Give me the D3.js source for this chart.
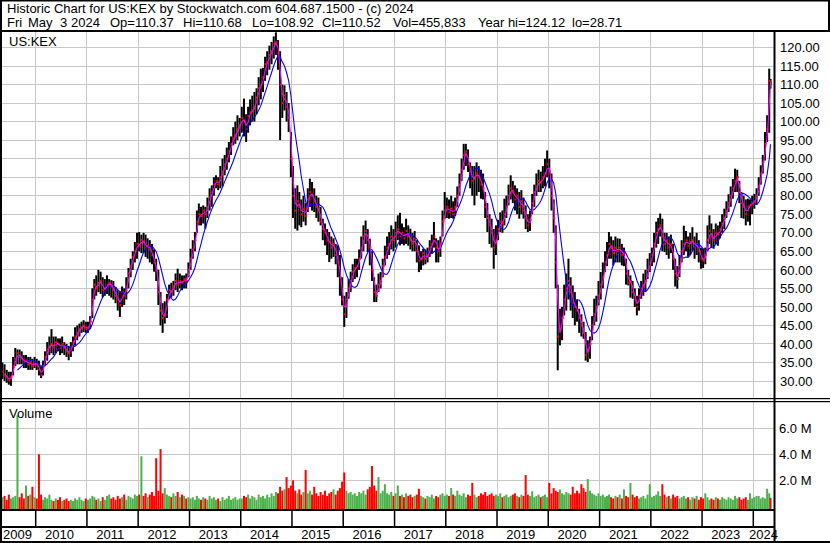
<!DOCTYPE html>
<html>
<head>
<meta charset="utf-8">
<script src="https://cdn.jsdelivr.net/npm/d3@7"></script>
<style>
body { margin: 0; background: #fff; }
svg { display: block; font-family: "Liberation Sans", Arial, sans-serif; }
</style>
</head>
<body>
<svg id="chart"></svg>
<script>
var WIDTH = 830;
var HEIGHT = 543;

// half-month periods, first one is 1-15 May 2009, last one is 1-3 May 2024
var closes = [
	32.5, 31.5, 31, 30.2, 31, 34, 36, 37.5, 36.5, 36, 35, 35.5, 34.5, 35, 34, 35,
	34.5, 33, 31.5, 34, 36.5, 38.5, 39.5, 40, 39, 40.5, 40, 39, 40, 39, 38, 37.5, 39, 40.5, 42, 43, 44, 44.5, 45, 44,
	44.5, 46, 52, 56, 55, 56.5, 57, 54.5, 55, 56, 56.5, 55.5, 54.5, 53, 52, 50.5, 54, 53, 55.5, 59, 61, 63.5, 65, 67,
	66.5, 68, 67.5, 66, 66.5, 65.5, 64, 62, 60, 54, 49, 47, 48, 52, 54.5, 54, 55.5, 57, 56, 57, 56.5, 57.5, 57, 60,
	63, 65.5, 68, 73, 75, 74.5, 76, 75, 77, 79.5, 81, 83, 84, 83, 85, 86.5, 88.5, 90, 92, 94, 95.5, 96.5, 98, 99,
	101, 100, 98, 101.5, 102.5, 103, 104, 106.5, 109, 110, 112, 115.5, 116, 118, 119, 121, 121.5, 118.5, 110, 105, 107, 104, 101, 90,
	80, 76, 78.5, 77, 75, 76.5, 74.5, 79, 81, 80, 78.5, 77, 76, 73, 71, 70, 68, 67.5, 66, 67, 64, 62, 58, 52,
	48, 52, 55, 57, 59.5, 60.5, 61, 63, 66, 69, 70.5, 68, 66, 60, 54, 53, 56, 57, 61, 63.5, 66, 67, 69, 68,
	70, 71, 69, 70, 68.5, 70.5, 69, 68, 67, 68.5, 65, 62.5, 63, 64.5, 63, 64, 66, 67, 69, 66, 65, 67, 73, 76,
	77, 75.5, 76.5, 75, 77, 80, 83, 87, 91, 92, 88.5, 86.5, 84, 85, 86, 85, 83, 82, 77, 74, 72, 70, 66, 68,
	71, 73, 72.5, 75, 77, 80, 82, 81, 79, 80, 77, 78.5, 76, 74, 72, 73.5, 78, 81, 82.5, 84, 83.5, 85, 86, 88.5,
	86.5, 80, 74, 62, 42, 44, 47, 52, 55, 57, 54, 51, 50, 49, 47, 45, 43, 37, 38.5, 40, 45, 48, 50, 53,
	56, 58, 62, 64, 67, 66, 64.5, 66, 65, 66, 64, 64.5, 59, 56.5, 57, 54, 52, 50, 53, 55, 56, 57, 60, 62,
	64, 67, 70, 71, 72, 69, 67, 68, 66, 67, 63, 59, 57.5, 61, 65, 67, 68, 66.5, 67.5, 68, 66, 67, 65, 63,
	62.5, 64, 68, 70.5, 69, 68, 70, 69.5, 71, 72.5, 74, 76, 78, 80, 82, 84, 85, 81, 78, 77, 75, 77, 77.5, 78,
	78.5, 80, 82.5, 86, 89, 94, 98, 111, 110.52
];
var highs = [
	35, 34.5, 33, 32.5, 32.5, 36.5, 38.9, 38.5, 38.5, 38, 37, 37, 36.5, 36.5, 36, 36.5,
	36, 35.5, 34, 35.5, 38, 40.5, 42, 44, 42, 42, 41.5, 41.5, 42, 40.5, 40, 39.5, 40.5, 42, 44.5, 45, 45.5, 46, 46.4, 46,
	46, 47.5, 55, 57.5, 58.5, 60, 59.5, 58, 57.5, 58.5, 57.5, 57.2, 57, 55.4, 54.5, 54, 55.5, 55, 58, 60.5, 63, 65, 67.5, 70,
	70.2, 69.5, 70, 69.5, 68.5, 68, 67, 65.5, 63, 60, 54, 51, 51.5, 53.5, 56, 56.5, 57, 59, 60.3, 59, 58.5, 58.5, 59, 62,
	65.7, 68, 70.2, 76, 77.9, 77, 77.4, 77, 79.5, 82, 82.8, 85, 85.5, 85, 88, 90, 91, 93, 94.5, 96, 98.5, 100, 101.7, 101,
	104, 106.2, 102, 104, 106, 107, 108, 109, 112, 114.3, 114.5, 117.5, 119, 120.5, 121.5, 123, 124.1, 122, 119, 110, 109.8, 108, 105, 97.2,
	88, 82, 82.8, 81, 79, 80, 78, 82, 84.6, 83.7, 82, 80, 79.5, 77, 73.8, 72.5, 71, 70.2, 69, 68.5, 67, 66.6, 64, 58,
	53, 54, 57.5, 59.5, 61.5, 63, 63, 65.5, 69, 72, 73.3, 71, 68.4, 65, 58, 56, 59, 59.4, 63, 66.5, 69, 70.2, 72, 71,
	73, 74.7, 75.4, 72.5, 71.5, 73.8, 72, 71.1, 70, 70.5, 68, 66.6, 65, 65.7, 65.5, 66, 68, 69.5, 72.9, 68.5, 68, 69, 76, 81,
	79.5, 79, 80, 78.5, 79.5, 82.5, 86, 90, 94, 94, 92.5, 89, 88, 88, 89, 88, 87, 86, 81, 78, 75, 73.8, 71, 72,
	73.5, 75.5, 76, 79.2, 80, 83, 85.5, 84, 82.8, 82, 81, 81.5, 79.5, 77.4, 75, 76, 80.5, 83, 86, 87, 86.5, 88, 90, 92.2,
	90, 86, 79, 72, 56, 49.5, 50, 56, 59, 63, 58, 55.8, 54, 52, 49.5, 48, 46, 43.2, 41, 42, 47.5, 52.2, 53, 57,
	59.4, 62, 65, 67.5, 70.2, 69, 68, 69, 68.5, 68.4, 67, 66, 63, 60, 58.5, 57, 55, 53, 55, 57, 59, 60, 63, 64.5,
	66, 70, 73, 74, 75.2, 73.8, 70, 70, 69, 69.5, 67, 63, 61, 64, 68, 71.9, 70.5, 69, 70, 71.5, 69, 70, 68, 66,
	65.7, 66, 72, 74.7, 72.5, 71, 72.5, 72, 73, 75, 76.5, 78.5, 80.4, 82.5, 84.5, 87.3, 87, 84, 81, 80, 79, 79.2, 79, 80,
	80.5, 82, 85, 88.2, 91, 97.2, 101.7, 114.3, 111.5
];
var lows = [
	30.5, 30, 29.5, 29, 28.7, 31.5, 34, 34.5, 34.5, 34.5, 33.5, 33.5, 33, 33, 33, 33.5,
	33, 31.5, 30.8, 31.5, 34, 35.5, 37, 37.5, 37, 37.5, 38, 37, 37.5, 37, 36.5, 35.6, 36.5, 38, 39.5, 41, 42, 43, 43.2, 43,
	43, 44, 47, 52, 53, 54, 53.5, 52.6, 53, 53.5, 53, 52.5, 52, 51, 49, 47.3, 50, 50.5, 52, 55, 58, 60, 62, 63,
	65, 64.5, 64.5, 63.5, 63, 62, 61.5, 59.5, 57, 50.5, 45, 43, 45.5, 47, 52, 52.5, 53, 54.5, 54, 55, 54.5, 55, 55, 58,
	60, 63, 65, 70, 72, 72, 72.5, 71.1, 74, 76, 77, 80, 82, 81.5, 82, 82.5, 85.5, 87, 89, 91, 93.6, 94, 95, 96,
	97, 96, 94.5, 97, 99, 100, 100, 102, 104.4, 106, 108, 111, 112.5, 114, 115.5, 117, 118, 114, 95, 101, 103, 100, 97.2, 85,
	74, 71.1, 70.6, 72, 71.5, 73, 72, 75.6, 77, 76, 75.6, 74, 73, 72, 68, 66.6, 64, 62.1, 63, 63.5, 61.5, 58, 53, 50.4,
	44.6, 47, 52.2, 54, 56.7, 57.5, 58, 60, 63, 65, 67, 64.8, 61.2, 57, 51.3, 51.3, 54, 55, 58, 61.2, 63, 64, 65.5, 65,
	66, 68, 66.6, 67, 66.6, 67, 66.5, 65.5, 65, 65, 62, 59.4, 60, 61.2, 61.5, 62, 63.5, 64.5, 66, 62, 62, 63.5, 69, 73.8,
	74, 73.8, 74, 73.8, 74.5, 77, 80, 84, 87, 88, 86.4, 82, 80, 77.4, 80, 81, 79.2, 79, 74, 70.2, 67, 66, 60.3, 64,
	68, 70.2, 70, 72, 74, 77.4, 79, 78, 76, 75, 73.8, 75, 73.8, 71, 70.2, 70.5, 75, 77, 80, 81, 81, 82, 82.5, 85,
	82, 76, 70, 55, 32.9, 39.6, 41, 47.7, 49, 52, 49, 47, 45, 46, 43, 42, 41.4, 35.5, 35.1, 36, 41, 45, 46, 50.4,
	52, 55, 59.4, 61, 63, 63, 61.2, 62, 62, 62, 61.2, 61, 56, 55.8, 52.5, 52.2, 50, 47.7, 49, 52.2, 53, 54, 57.5, 59.4,
	61, 62, 66, 67, 69, 65, 64.8, 64, 63, 64.5, 60, 55.5, 54.9, 58, 62, 64, 65, 63.5, 64, 65, 63, 64, 62, 60.3,
	60.5, 61.5, 65, 67, 66, 65.7, 67, 66.5, 68.5, 70, 71, 74, 75.6, 77, 79.2, 81, 81, 78, 74, 73.8, 72, 73, 72, 75,
	76.5, 77.5, 80, 83, 86, 89.5, 94.5, 97, 108.9
];
// millions of shares
var volumes = [
	0.7, 0.8, 0.5, 0.9, 0.6, 0.7, 0.8, 7.0, 0.7, 1.0, 0.6, 1.6, 0.8, 0.9, 1.5, 0.7,
	0.6, 4.0, 0.9, 0.5, 0.7, 0.6, 0.9, 0.5, 0.4, 0.6, 0.5, 0.7, 0.4, 0.5, 0.6, 0.4, 0.5, 0.4, 0.6, 0.5, 0.7, 0.5, 0.4, 0.6,
	0.5, 0.6, 0.8, 0.7, 0.5, 0.6, 0.4, 0.7, 0.5, 0.8, 0.9, 0.6, 0.7, 0.5, 0.8, 0.6, 0.7, 0.9, 0.5, 0.8, 0.7, 0.6, 0.9, 0.8,
	0.9, 3.85, 0.8, 1.0, 0.7, 0.9, 1.1, 0.8, 3.7, 1.2, 4.4, 1.0, 1.4, 0.9, 0.8, 0.7, 1.0, 0.8, 1.1, 0.7, 0.9, 0.8, 0.6, 0.7,
	0.6, 0.7, 0.5, 0.8, 0.6, 0.5, 0.7, 0.6, 0.5, 0.8, 0.6, 0.7, 0.5, 0.6, 0.4, 0.7, 0.5, 0.6, 0.8, 0.5, 0.6, 0.7, 0.5, 0.6,
	0.6, 0.8, 0.7, 0.9, 0.6, 0.8, 0.7, 0.5, 0.9, 0.7, 0.8, 0.6, 0.9, 0.7, 1.0, 0.8, 1.1, 1.0, 1.5, 1.2, 1.3, 2.25, 1.4, 1.6,
	2.0, 1.2, 1.0, 1.3, 0.9, 1.1, 2.8, 1.0, 1.2, 0.9, 1.5, 1.0, 0.8, 1.1, 0.9, 1.2, 0.8, 1.0, 1.1, 1.3, 0.9, 1.2, 1.4, 1.9,
	2.6, 1.2, 1.0, 1.1, 0.9, 1.0, 0.8, 1.1, 1.0, 1.2, 0.9, 1.3, 1.5, 3.1, 1.6, 1.2, 2.25, 1.0, 1.2, 1.7, 1.0, 0.9, 1.1, 0.8,
	1.0, 1.6, 0.8, 0.9, 0.7, 1.0, 0.8, 0.9, 0.7, 0.8, 0.9, 1.35, 0.8, 0.7, 0.6, 0.8, 0.7, 0.9, 0.6, 0.8, 0.7, 0.9, 1.0, 0.8,
	0.9, 0.8, 1.4, 0.9, 0.8, 1.2, 0.9, 0.8, 1.0, 0.7, 0.9, 0.8, 1.8, 0.9, 0.7, 0.8, 1.0, 0.9, 1.1, 0.8, 0.9, 1.0, 0.8, 0.9,
	0.8, 1.0, 0.7, 0.8, 0.9, 0.7, 0.8, 0.9, 1.0, 0.8, 0.7, 0.9, 0.8, 2.4, 0.9, 0.8, 1.15, 0.7, 0.8, 0.9, 0.7, 0.8, 0.9, 0.7,
	1.8, 1.0, 1.4, 1.2, 1.1, 1.3, 1.0, 0.9, 1.1, 1.0, 0.9, 1.5, 1.0, 1.2, 1.0, 1.7, 1.4, 1.1, 2.1, 1.2, 1.0, 0.9, 0.8, 1.0,
	0.8, 0.9, 0.7, 0.8, 0.9, 0.7, 0.6, 0.8, 0.7, 0.9, 0.6, 1.3, 0.8, 0.7, 1.8, 0.9, 0.7, 0.8, 0.6, 0.7, 0.8, 0.6, 0.9, 1.7,
	0.7, 0.8, 0.9, 1.15, 0.8, 1.7, 0.9, 0.7, 0.8, 0.6, 0.9, 0.7, 0.8, 0.6, 0.7, 0.8, 0.6, 0.7, 0.5, 0.7, 0.6, 0.8, 0.5, 0.7,
	0.6, 1.0, 0.7, 0.5, 0.6, 0.5, 0.7, 0.6, 0.5, 0.7, 0.6, 0.5, 0.7, 0.6, 0.5, 0.8, 0.6, 0.7, 0.5, 0.6, 0.7, 0.5, 1.0, 0.6,
	0.7, 0.8, 0.8, 0.6, 0.7, 0.6, 1.35, 1.0, 0.65
];

var priceTicks = [30, 35, 40, 45, 50, 55, 60, 65, 70, 75, 80, 85, 90, 95, 100, 105, 110, 115, 120];
var volumeTicks = [2, 4, 6];
var years = [2009, 2010, 2011, 2012, 2013, 2014, 2015, 2016, 2017, 2018, 2019, 2020, 2021, 2022, 2023, 2024];

var title = 'Historic Chart for US:KEX by Stockwatch.com 604.687.1500 - (c) 2024';
var quoteFields = ['Fri', 'May', '3', '2024', 'Op=110.37', 'Hi=110.68', 'Lo=108.92', 'Cl=110.52', 'Vol=455,833', 'Year hi=124.12', 'lo=28.71'];
var symbol = 'US:KEX';

var SHORT_AVG = 2; // periods for the magenta line
var LONG_AVG = 8;  // periods for the blue line

var LEFT = 2, RIGHT = 773.5;
var PRICE_TOP = 32, PRICE_BOTTOM = 398;
var VOL_TOP = 402, VOL_BOTTOM = 509;

var svg = d3.select('#chart')
	.attr('width', WIDTH)
	.attr('height', HEIGHT);

var x = d3.scaleTime()
	.domain([new Date(2010, 0, 1), new Date(2024, 0, 1)])
	.range([35.7, 753.3]);
var y = d3.scaleLinear().domain([30, 120]).range([381, 47.5]);
var yVol = d3.scaleLinear().domain([0, 6]).range([506.3, 428.3]);

var periodStart = function(i){
	return new Date(2009, 4 + Math.floor(i / 2), i % 2 ? 16 : 1);
};
var periodEnd = function(i){
	if(i === closes.length - 1) return new Date(2024, 4, 4);
	return periodStart(i + 1);
};
var periodMid = function(i){
	return new Date((periodStart(i).getTime() + periodEnd(i).getTime()) / 2);
};
var crisp = function(v){ return Math.floor(v) + 0.5; };

var movingAverage = function(n){
	return closes.map(function(c, i){
		if(i < n - 1) return null;
		return d3.mean(closes.slice(i - n + 1, i + 1));
	});
};

svg.append('rect').attr('width', WIDTH).attr('height', HEIGHT).attr('fill', '#fff');

// grid
var grid = svg.append('g').attr('stroke', '#c8c8c8').attr('stroke-width', 1);
grid.selectAll('line.ph').data(priceTicks).enter().append('line')
	.attr('x1', LEFT).attr('x2', RIGHT)
	.attr('y1', function(d){ return crisp(y(d)); })
	.attr('y2', function(d){ return crisp(y(d)); });
grid.selectAll('line.vh').data(volumeTicks).enter().append('line')
	.attr('x1', LEFT).attr('x2', RIGHT)
	.attr('y1', function(d){ return crisp(yVol(d)); })
	.attr('y2', function(d){ return crisp(yVol(d)); });
var yearLines = years.slice(1).map(function(yr){ return new Date(yr, 0, 1); });
grid.selectAll('line.pv').data(yearLines).enter().append('line')
	.attr('x1', function(d){ return crisp(x(d)); })
	.attr('x2', function(d){ return crisp(x(d)); })
	.attr('y1', PRICE_TOP).attr('y2', PRICE_BOTTOM);
grid.selectAll('line.vv').data(yearLines).enter().append('line')
	.attr('x1', function(d){ return crisp(x(d)); })
	.attr('x2', function(d){ return crisp(x(d)); })
	.attr('y1', VOL_TOP).attr('y2', VOL_BOTTOM);

svg.append('clipPath').attr('id', 'priceClip')
	.append('rect').attr('x', LEFT).attr('y', PRICE_TOP)
	.attr('width', RIGHT - LEFT).attr('height', PRICE_BOTTOM - PRICE_TOP);

var idx = d3.range(closes.length);
var barW = 2;

var price = svg.append('g').attr('clip-path', 'url(#priceClip)');
price.selectAll('rect.hl').data(idx).enter().append('rect')
	.attr('x', function(i){ return x(periodMid(i)) - barW / 2; })
	.attr('y', function(i){ return y(highs[i]); })
	.attr('width', barW)
	.attr('height', function(i){ return Math.max(1, y(lows[i]) - y(highs[i])); })
	.attr('fill', '#000');
price.selectAll('rect.cl').data(idx).enter().append('rect')
	.attr('x', function(i){ return x(periodMid(i)) - 0.5; })
	.attr('y', function(i){ return y(closes[i]) - 1; })
	.attr('width', 2).attr('height', 2)
	.attr('fill', '#ff0000');

var avgLine = function(values){
	return d3.line()
		.defined(function(i){ return values[i] !== null; })
		.x(function(i){ return x(periodMid(i)); })
		.y(function(i){ return y(values[i]); })(idx);
};
price.append('path').attr('d', avgLine(movingAverage(LONG_AVG)))
	.attr('fill', 'none').attr('stroke', '#0000ff').attr('stroke-width', 1.1);
price.append('path').attr('d', avgLine(movingAverage(SHORT_AVG)))
	.attr('fill', 'none').attr('stroke', '#ff00ff').attr('stroke-width', 1.1);

// volume
var volColor = function(i){
	if(i === 0 || closes[i] > closes[i - 1]) return '#4cb04c';
	if(closes[i] < closes[i - 1]) return '#ff0000';
	return '#a0a0a0';
};
svg.append('g').selectAll('rect').data(idx).enter().append('rect')
	.attr('x', function(i){ return x(periodMid(i)) - barW / 2; })
	.attr('y', function(i){ return yVol(volumes[i]); })
	.attr('width', barW)
	.attr('height', function(i){ return VOL_BOTTOM - yVol(volumes[i]); })
	.attr('fill', volColor);

// axes on the right
var priceAxis = d3.axisRight(y)
	.tickValues(priceTicks)
	.tickSize(0)
	.tickPadding(5)
	.tickFormat(d3.format('.2f'));
var volAxis = d3.axisRight(yVol)
	.tickValues(volumeTicks)
	.tickSize(0)
	.tickPadding(4)
	.tickFormat(function(d){ return d.toFixed(1) + ' M'; });
[priceAxis, volAxis].forEach(function(axis){
	var g = svg.append('g')
		.attr('transform', 'translate(775,0)')
		.call(axis);
	g.select('.domain').remove();
	g.attr('font-family', '"Liberation Sans", Arial, sans-serif')
		.attr('font-size', 13)
		.attr('color', '#000');
});

// frame
var frame = svg.append('g').attr('fill', '#000');
frame.append('rect').attr('x', 0).attr('y', 0).attr('width', WIDTH).attr('height', 1.5);
frame.append('rect').attr('x', 0).attr('y', 30).attr('width', WIDTH).attr('height', 2);
frame.append('rect').attr('x', 0).attr('y', 0).attr('width', 2).attr('height', HEIGHT);
frame.append('rect').attr('x', 828).attr('y', 0).attr('width', 2).attr('height', 32);
frame.append('rect').attr('x', 773.5).attr('y', 31).attr('width', 2).attr('height', HEIGHT - 31);
frame.append('rect').attr('x', 0).attr('y', 398).attr('width', WIDTH).attr('height', 1.2);
frame.append('rect').attr('x', 0).attr('y', 401).attr('width', WIDTH).attr('height', 1.2);
frame.append('rect').attr('x', 0).attr('y', VOL_BOTTOM).attr('width', 774).attr('height', 2);
frame.append('rect').attr('x', 0).attr('y', 526).attr('width', 774).attr('height', 2);
frame.append('rect').attr('x', 0).attr('y', 541).attr('width', WIDTH).attr('height', 2);
frame.selectAll('rect.tick').data(yearLines).enter().append('rect')
	.attr('x', function(d){ return x(d) - 0.75; })
	.attr('y', 511).attr('width', 1.5).attr('height', 15);

// date labels
svg.append('g').attr('font-size', 13).attr('fill', '#000')
	.selectAll('text').data(years).enter().append('text')
	.attr('x', function(yr){ return Math.max(3, Math.min(749, x(new Date(yr, 0, 1)) + 9.3)); })
	.attr('y', 539)
	.text(function(yr){ return yr; });

// header
var header = svg.append('g').attr('font-size', 13).attr('fill', '#000');
header.append('text').attr('x', 7).attr('y', 13).text(title);
var quoteX = [7, 28, 60, 71, 110, 183, 252, 322, 393, 478, 572];
header.selectAll('text.q').data(quoteFields).enter().append('text')
	.attr('x', function(d, i){ return quoteX[i]; })
	.attr('y', 27)
	.text(function(d){ return d; });

svg.append('text').attr('x', 9).attr('y', 46).attr('font-size', 13).text(symbol);
svg.append('text').attr('x', 9).attr('y', 418).attr('font-size', 13).text('Volume');
</script>
</body>
</html>
